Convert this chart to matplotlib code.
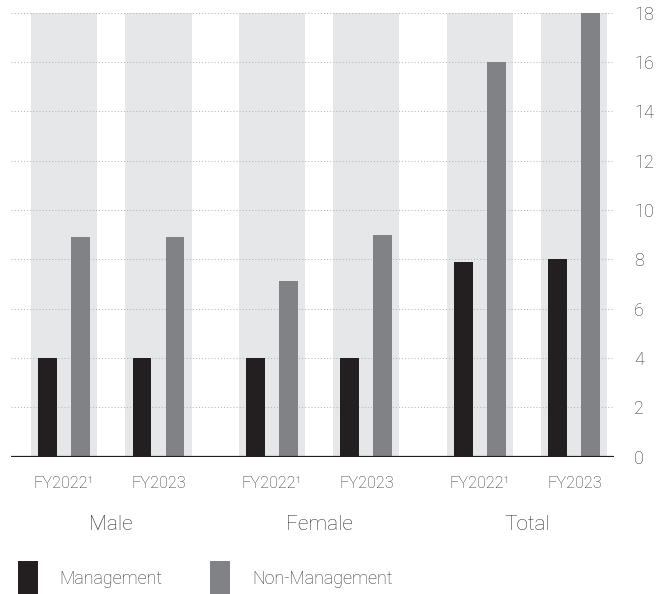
import matplotlib
matplotlib.use("Agg")
import matplotlib.pyplot as plt
import matplotlib.transforms as mtransforms
from matplotlib.patches import Rectangle
import numpy as np

# ---- data ----
groups = ["Male", "Female", "Total"]
years = ["FY2022\u00b9", "FY2023"]
management = [4.0, 4.0, 4.0, 4.0, 7.9, 8.0]
non_management = [8.9, 8.9, 7.1, 9.0, 16.0, 18.0]
series_names = ["Management", "Non-Management"]
yticks = [0, 2, 4, 6, 8, 10, 12, 14, 16, 18]

# ---- style ----
C_MGMT = "#231f20"
C_NON = "#808285"
C_BAND = "#e6e7e8"
C_GRID = "#b4b6b9"
C_TEXT = "#333335"
FONT = ["Roboto", "DejaVu Sans"]
plt.rcParams["font.family"] = FONT
plt.rcParams["font.weight"] = "light"

W, H = 665, 594
fig = plt.figure(figsize=(W / 100, H / 100), dpi=100)

# axes geometry in pixels
ax_left, ax_right, ax_top, ax_bottom = 11, 614, 12.5, 456.5
ax = fig.add_axes([ax_left / W, 1 - ax_bottom / H,
                   (ax_right - ax_left) / W, (ax_bottom - ax_top) / H])

# x positions: within-group spacing 1, extra gap between groups
gap = 0.2
centers = []
for g in range(len(groups)):
    for j in range(len(years)):
        centers.append(g * (len(years) + gap) + j)
centers = np.array(centers)
unit = 94.5  # px per x unit
first_center_px = 64
ax.set_xlim((ax_left - first_center_px) / unit, (ax_right - first_center_px) / unit)
ax.set_ylim(0, yticks[-1])

# background bands
ax.bar(centers, yticks[-1], width=0.70, color=C_BAND, zorder=0, linewidth=0)

# grid
for yv in yticks[1:]:
    ax.axhline(yv, color=C_GRID, lw=0.75, linestyle=(0, (1, 2)), zorder=1)

bw = 0.20
off = 0.175
ax.bar(centers - off, management, width=bw, color=C_MGMT, zorder=2, linewidth=0)
ax.bar(centers + off, non_management, width=bw, color=C_NON, zorder=2, linewidth=0)

ax.axhline(0, color=C_MGMT, lw=1.6, zorder=3)

for s in ax.spines.values():
    s.set_visible(False)

# y ticks on right
ax.yaxis.tick_right()
ax.set_yticks(yticks)
ax.set_yticklabels([str(v) for v in yticks])
ax.tick_params(axis="y", length=0, pad=14.5, labelsize=13, labelcolor=C_TEXT)

# x ticks
ax.set_xticks(centers)
ax.set_xticklabels(years * len(groups))
ax.tick_params(axis="x", length=0, pad=14, labelsize=11.7, labelcolor=C_TEXT)

# group labels
trans = mtransforms.blended_transform_factory(ax.transData, fig.transFigure)
for g, name in enumerate(groups):
    cx = centers[g * len(years):(g + 1) * len(years)].mean()
    ax.text(cx, 1 - 524.5 / H, name, transform=trans, ha="center", va="center",
            fontsize=15, color=C_TEXT)

# legend
leg_items = [(18, 59, C_MGMT, series_names[0]), (210, 252, C_NON, series_names[1])]
for sx, tx, col, lab in leg_items:
    fig.add_artist(Rectangle((sx / W, 0), 20 / W, (594 - 561) / H,
                             transform=fig.transFigure, color=col, linewidth=0))
    fig.text(tx / W, 1 - 579.5 / H, lab, ha="left", va="center",
             fontsize=12.9, color=C_TEXT)

fig.savefig("out.png", dpi=100)
